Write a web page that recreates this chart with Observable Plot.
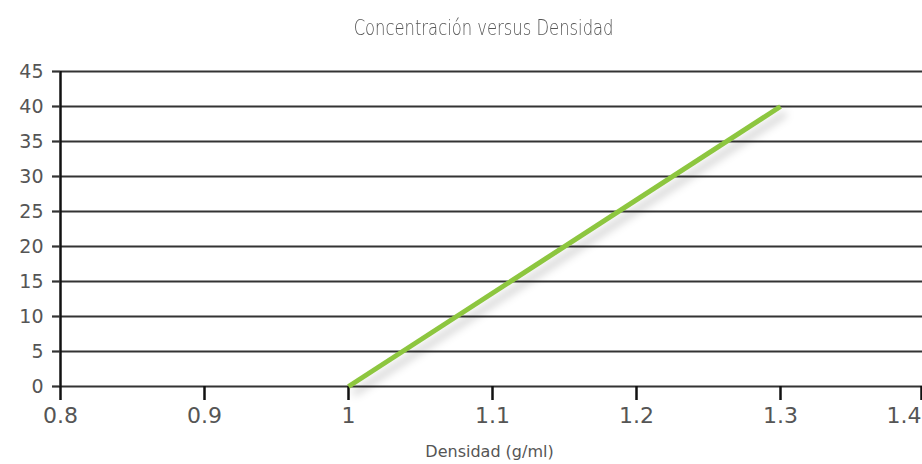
<!DOCTYPE html>
<html>
<head>
<meta charset="utf-8">
<script src="https://cdn.jsdelivr.net/npm/d3@7"></script>
<script src="https://cdn.jsdelivr.net/npm/@observablehq/plot@0.6"></script>
<style>
  html, body { margin: 0; padding: 0; background: #fff; }
  #wrap { width: 922px; height: 464px; overflow: hidden; position: relative; }
  #title { height: 56px; line-height: 56px; text-align: center; width: 922px;
    font-family: "DejaVu Sans", sans-serif; font-weight: 300;
    font-size: 21px; color: #555; }
  #title span { display: inline-block; transform: scaleX(0.78); transform-origin: center; margin-left: 46px; }
  svg { display: block; }
</style>
</head>
<body>
<div id="wrap">
  <div id="title"><span>Concentración versus Densidad</span></div>
  <div id="chart"></div>
</div>
<script>
const title = "Concentración versus Densidad";
const xLabel = "Densidad (g/ml)";
const xTicks = [0.8, 0.9, 1, 1.1, 1.2, 1.3, 1.4];
const yTicks = [0, 5, 10, 15, 20, 25, 30, 35, 40, 45];
const density = [1, 1.3];
const concentration = [0, 40];

const data = density.map((d, i) => ({density: d, concentration: concentration[i]}));
const xInner = xTicks.slice(0, -1);
const xLast = xTicks.slice(-1);

const chart = Plot.plot({
  width: 922,
  height: 408,
  marginLeft: 60,
  marginRight: -2,
  marginTop: 15,
  marginBottom: 78,
  style: {fontFamily: '"DejaVu Sans", sans-serif', background: "#fff", overflow: "visible"},
  x: {domain: [0.8, 1.4], label: null},
  y: {domain: [0, 45], label: null},
  marks: [
    Plot.ruleY(yTicks, {stroke: "#333", strokeWidth: 2.2}),
    Plot.ruleX([0.8], {y1: 0, y2: 45, stroke: "#111", strokeWidth: 2.5}),
    Plot.axisY({ticks: yTicks, tickSize: 8, tickPadding: 9, stroke: "#333", strokeWidth: 2.2, fill: "#555", fontSize: 19, tickFormat: d => String(d)}),
    Plot.axisX({ticks: xInner, tickSize: 14, tickPadding: 7, stroke: "#111", strokeWidth: 2.5, fill: "#555", fontSize: 22, tickFormat: d => String(d)}),
    Plot.axisX({ticks: xLast, tickSize: 14, tickPadding: 7, stroke: "#111", strokeWidth: 2.5, fill: "#555", fontSize: 22, textAnchor: "end", dx: -3, tickFormat: d => String(d)}),
    Plot.line(data, {x: "density", y: "concentration", stroke: "#8dc63f", strokeWidth: 5, strokeLinecap: "butt"}),
    Plot.text([xLabel], {frameAnchor: "bottom", dy: 70, dx: -3, fill: "#555", fontSize: 16})
  ]
});
const line = chart.querySelector('g[aria-label="line"] path');
if (line) line.style.filter = "drop-shadow(5px 7px 4px rgba(0,0,0,0.22))";
document.getElementById("chart").appendChild(chart);
</script>
</body>
</html>
